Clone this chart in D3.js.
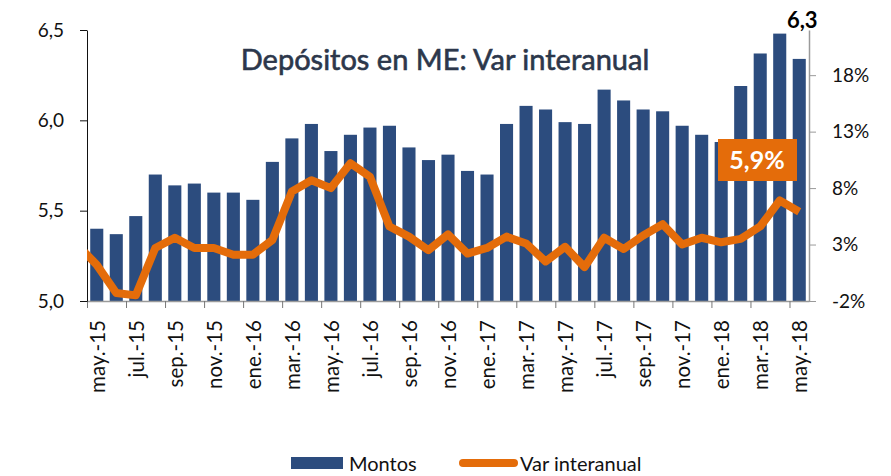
<!DOCTYPE html>
<html>
<head>
<meta charset="utf-8">
<script src="https://cdn.jsdelivr.net/npm/d3@7"></script>
<style>
  body { margin: 0; background: #fff; }
  svg { display: block; font-family: Lato, "Open Sans", sans-serif; }
</style>
</head>
<body>
<div id="container"></div>
<script>
const meses = ['may.-15','jun.-15','jul.-15','ago.-15','sep.-15','oct.-15','nov.-15','dic.-15',
    'ene.-16','feb.-16','mar.-16','abr.-16','may.-16','jun.-16','jul.-16','ago.-16','sep.-16','oct.-16','nov.-16','dic.-16',
    'ene.-17','feb.-17','mar.-17','abr.-17','may.-17','jun.-17','jul.-17','ago.-17','sep.-17','oct.-17','nov.-17','dic.-17',
    'ene.-18','feb.-18','mar.-18','abr.-18','may.-18'];

// montos en miles de millones
const montos = [5.40, 5.37, 5.47, 5.70, 5.64, 5.65, 5.60, 5.60,
    5.56, 5.77, 5.90, 5.98, 5.83, 5.92, 5.96, 5.97, 5.85, 5.78, 5.81, 5.72,
    5.70, 5.98, 6.08, 6.06, 5.99, 5.98, 6.17, 6.11, 6.06, 6.05, 5.97, 5.92,
    5.88, 6.19, 6.37, 6.48, 6.34];

// var interanual (%)
const varPrevia = 3.0; // abr.-15, only the start of the line shows
const varInteranual = [1.2, -1.3, -1.5, 2.7, 3.6, 2.7, 2.7, 2.1,
    2.1, 3.4, 7.7, 8.7, 8.0, 10.2, 9.0, 4.6, 3.7, 2.5, 3.9, 2.2,
    2.7, 3.7, 3.1, 1.5, 2.8, 1.0, 3.6, 2.6, 3.8, 4.8, 3.0, 3.6,
    3.2, 3.5, 4.6, 6.9, 5.9];

const ticksIzq = [5.0, 5.5, 6.0, 6.5];
const ticksDer = [-2, 3, 8, 13, 18];

const width = 891;
const height = 476;
const mLeft = 87, mRight = 809, mTop = 30, mBottom = 301;

const azul = '#2c4c7e';
const naranja = '#e46c0a';

const loc = d3.formatLocale({ decimal: ',', thousands: '.', grouping: [3], currency: ['', ''] });
const f1 = loc.format('.1f');

const svg = d3.select('#container')
    .append('svg')
    .attr('width', width)
    .attr('height', height);

const x = d3.scaleBand()
    .domain(meses)
    .range([mLeft, mRight])
    .paddingInner(0.33)
    .paddingOuter(0.165);

const yL = d3.scaleLinear().domain([5, 6.5]).range([mBottom, mTop]);
const yR = d3.scaleLinear().domain([-2, 22]).range([mBottom, mTop]);

// title
svg.append('text')
    .attr('x', 445)
    .attr('y', 70)
    .attr('text-anchor', 'middle')
    .style('font-size', '29px')
    .style('fill', '#2c374b')
    .style('stroke', '#2c374b')
    .style('stroke-width', 0.6)
    .text('Depósitos en ME: Var interanual');

// bars
svg.selectAll('rect.bar')
    .data(montos)
    .enter()
    .append('rect')
    .attr('class', 'bar')
    .attr('x', (d, i) => x(meses[i]))
    .attr('y', (d) => yL(d))
    .attr('width', x.bandwidth())
    .attr('height', (d) => yL(5) - yL(d))
    .style('fill', azul);

// x axis (ticks every two months)
const xIdx = d3.scaleLinear().domain([0, meses.length]).range([mLeft, mRight]);
const gx = svg.append('g')
    .attr('transform', 'translate(0,' + mBottom + ')')
    .call(d3.axisBottom(xIdx).tickValues(d3.range(0, meses.length, 2)).tickFormat('').tickSize(7).tickSizeOuter(0));
gx.select('.domain').attr('stroke', '#9a9a9a').attr('stroke-width', 1.5);
gx.selectAll('.tick line').attr('stroke', '#777');

svg.selectAll('text.mes')
    .data(meses.filter((d, i) => i % 2 == 0))
    .enter()
    .append('text')
    .attr('class', 'mes')
    .attr('transform', (d) => 'translate(' + (x(d) + x.bandwidth() / 2 + 1) + ',320) rotate(-90)')
    .attr('text-anchor', 'end')
    .attr('dy', '0.35em')
    .style('font-size', '20.5px')
    .style('fill', '#111')
    .text((d) => d);

// left axis
const gl = svg.append('g')
    .attr('transform', 'translate(' + mLeft + ',0)')
    .call(d3.axisLeft(yL).tickValues(ticksIzq).tickFormat(f1).tickSize(7).tickSizeOuter(0).tickPadding(16));
gl.select('.domain').attr('stroke', '#111');
gl.selectAll('.tick line').attr('stroke', '#111');
gl.selectAll('text').style('font-size', '19px').style('fill', '#111').style('font-family', 'Lato, sans-serif');

// right axis
const gr = svg.append('g')
    .attr('transform', 'translate(' + mRight + ',0)')
    .call(d3.axisRight(yR).tickValues(ticksDer).tickFormat((d) => d + '%').tickSize(7).tickSizeOuter(0).tickPadding(16));
gr.select('.domain').attr('stroke', '#9a9a9a').attr('stroke-width', 1.5);
gr.selectAll('.tick line').attr('stroke', '#9a9a9a');
gr.selectAll('text').style('font-size', '19px').style('fill', '#111').style('font-family', 'Lato, sans-serif');

// line, clipped to the plot area
svg.append('clipPath')
    .attr('id', 'plot')
    .append('rect')
    .attr('x', mLeft)
    .attr('y', 0)
    .attr('width', mRight - mLeft)
    .attr('height', mBottom + 10);

const step = x.step();
const cx = (i) => x(meses[0]) + x.bandwidth() / 2 + i * step;
const puntos = [[-1, varPrevia]].concat(varInteranual.map((d, i) => [i, d]));

const line = d3.line()
    .x((d) => cx(d[0]))
    .y((d) => yR(d[1]));

svg.append('path')
    .datum(puntos)
    .attr('clip-path', 'url(#plot)')
    .attr('d', line)
    .style('fill', 'none')
    .style('stroke', naranja)
    .style('stroke-width', 8)
    .style('stroke-linejoin', 'round');

// labels
const nUlt = montos.length - 1;
svg.append('text')
    .attr('x', cx(nUlt) + 3)
    .attr('y', 28)
    .attr('text-anchor', 'middle')
    .style('font-size', '22px')
    .style('font-weight', 'bold')
    .style('fill', '#000')
    .text(f1(montos[nUlt]).slice(0, 3));

svg.append('rect')
    .attr('x', 718)
    .attr('y', 139)
    .attr('width', 79)
    .attr('height', 42)
    .style('fill', naranja);

svg.append('text')
    .attr('x', 757)
    .attr('y', 169)
    .attr('text-anchor', 'middle')
    .style('font-size', '25px')
    .style('font-weight', 'bold')
    .style('fill', '#fff')
    .text(f1(varInteranual[nUlt]) + '%');

// legend
svg.append('rect')
    .attr('x', 291)
    .attr('y', 457)
    .attr('width', 52)
    .attr('height', 12)
    .style('fill', azul);
svg.append('text')
    .attr('x', 349)
    .attr('y', 471)
    .style('font-size', '20px')
    .style('fill', '#111')
    .text('Montos');

svg.append('line')
    .attr('x1', 463).attr('x2', 514)
    .attr('y1', 463).attr('y2', 463)
    .style('stroke', naranja)
    .style('stroke-width', 8)
    .style('stroke-linecap', 'round');
svg.append('text')
    .attr('x', 520)
    .attr('y', 471)
    .style('font-size', '20px')
    .style('fill', '#111')
    .text('Var interanual');
</script>
</body>
</html>
